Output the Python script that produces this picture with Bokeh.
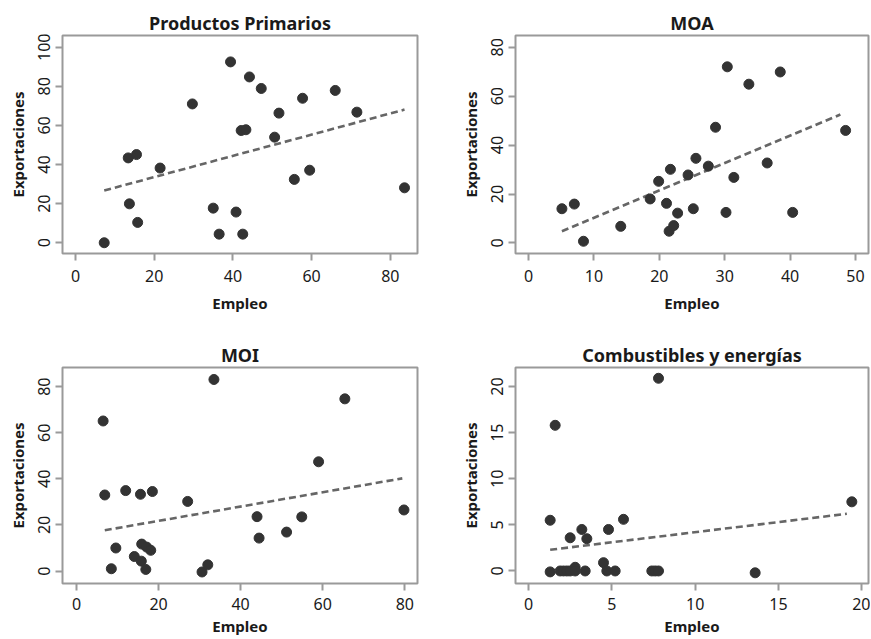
from bokeh.plotting import figure
from bokeh.layouts import gridplot
from bokeh.models import FixedTicker, Range1d
from bokeh.embed import file_html
from bokeh.resources import INLINE

# ---------------- data ----------------
titles = ["Productos Primarios", "MOA", "MOI", "Combustibles y energías"]

emp_pp = [7.3, 13.4, 15.5, 13.7, 15.8, 21.5, 29.7, 35.0, 36.5, 39.4, 40.8, 42.1,
          43.3, 42.5, 44.2, 47.2, 50.6, 51.7, 55.6, 57.7, 59.5, 66.0, 71.5, 83.6]
exp_pp = [0.0, 43.4, 45.1, 19.9, 10.4, 38.2, 71.0, 17.7, 4.4, 92.5, 15.7, 57.4,
          57.8, 4.4, 84.8, 78.9, 54.0, 66.3, 32.4, 73.9, 37.1, 77.9, 66.8, 28.1]
trend_pp_x = [7.3, 83.6]
trend_pp_y = [26.7, 68.1]

emp_moa = [5.1, 7.0, 8.4, 14.1, 18.6, 19.9, 21.1, 21.7, 21.5, 22.2, 22.8, 24.4,
           25.2, 25.6, 27.5, 28.6, 30.2, 30.4, 31.4, 33.7, 36.5, 38.5, 40.4, 48.5]
exp_moa = [14.0, 15.9, 0.7, 6.8, 18.0, 25.2, 16.2, 30.1, 4.8, 7.1, 12.2, 27.8,
           14.0, 34.6, 31.4, 47.3, 12.5, 72.0, 26.8, 64.9, 32.7, 69.9, 12.5, 46.0]
trend_moa_x = [5.1, 47.7]
trend_moa_y = [4.8, 52.5]

emp_moi = [6.5, 6.9, 8.5, 9.6, 12.0, 14.1, 15.6, 15.9, 15.8, 16.9, 17.1, 18.1,
           18.5, 27.1, 30.6, 32.0, 33.5, 44.0, 44.5, 51.2, 54.9, 59.0, 65.4, 79.8]
exp_moi = [65.1, 33.0, 1.0, 10.0, 34.9, 6.3, 33.3, 11.7, 4.3, 0.7, 10.4, 9.0,
           34.5, 30.2, -0.4, 2.7, 83.1, 23.6, 14.3, 16.9, 23.5, 47.4, 74.7, 26.5]
trend_moi_x = [6.9, 79.4]
trend_moi_y = [17.7, 40.2]

emp_ce = [1.3, 1.3, 1.6, 1.9, 2.1, 2.3, 2.5, 2.5, 2.8, 2.8, 3.2, 3.4,
          3.5, 4.5, 4.7, 4.8, 5.2, 5.7, 7.4, 7.6, 7.8, 7.8, 13.6, 19.4]
exp_ce = [5.5, -0.1, 15.8, 0.0, 0.0, 0.0, 3.6, 0.0, 0.4, 0.0, 4.5, 0.0,
          3.5, 0.9, 0.0, 4.5, 0.0, 5.6, 0.0, 0.0, 0.0, 20.9, -0.2, 7.5]
trend_ce_x = [1.3, 19.1]
trend_ce_y = [2.3, 6.2]

xticks_pp = [0, 20, 40, 60, 80]
yticks_pp = [0, 20, 40, 60, 80, 100]
xticks_moa = [0, 10, 20, 30, 40, 50]
yticks_moa = [0, 20, 40, 60, 80]
xticks_moi = [0, 20, 40, 60, 80]
yticks_moi = [0, 20, 40, 60, 80]
xticks_ce = [0, 5, 10, 15, 20]
yticks_ce = [0, 5, 10, 15, 20]

FONT = "Noto Sans"
GRAY = "#9a9a9a"
TXT = "#1a1a1a"


def panel(title, xs, ys, tx, ty, xr, yr, xt, yt, w, h, bl, br, bt, bb,
          lab_standoff, axlab_standoff):
    p = figure(width=w, height=h, output_backend="svg", toolbar_location=None,
               x_range=Range1d(*xr), y_range=Range1d(*yr),
               min_border_left=bl, min_border_right=br,
               min_border_top=bt, min_border_bottom=bb)
    p.title.text = title
    p.title.align = "center"
    p.title.text_font = FONT
    p.title.text_font_size = "18px"
    p.title.text_font_style = "bold"
    p.title.text_color = TXT
    p.title.standoff = 2
    p.grid.visible = False
    p.outline_line_color = GRAY
    p.outline_line_width = 2
    p.background_fill_color = "white"
    p.border_fill_color = "white"

    for ax in (p.xaxis, p.yaxis):
        ax.axis_line_color = None
        ax.major_tick_line_color = GRAY
        ax.major_tick_line_width = 2
        ax.major_tick_in = 0
        ax.major_tick_out = 7
        ax.minor_tick_line_color = None
        ax.major_label_text_font = FONT
        ax.major_label_text_font_size = "16px"
        ax.major_label_text_color = TXT
        ax.axis_label_text_font = FONT
        ax.axis_label_text_font_size = "15px"
        ax.axis_label_text_font_style = "bold"
        ax.axis_label_text_color = TXT
    p.xaxis.ticker = FixedTicker(ticks=xt)
    p.yaxis.ticker = FixedTicker(ticks=yt)
    p.xaxis.axis_label = "Empleo"
    p.yaxis.axis_label = "Exportaciones"
    p.yaxis.major_label_orientation = "vertical"
    p.xaxis.major_label_standoff = lab_standoff
    p.xaxis.axis_label_standoff = axlab_standoff
    p.yaxis.major_label_standoff = 5
    p.yaxis.axis_label_standoff = 8

    p.line(tx, ty, line_color="#666666", line_width=2.6, line_dash="7 4")
    p.scatter(xs, ys, size=10, fill_color="#333333", line_color="#333333")
    return p


p1 = panel(titles[0], emp_pp, exp_pp, trend_pp_x, trend_pp_y,
           (-3.3, 86.9), (-5.5, 106.0), xticks_pp, yticks_pp,
           435, 320, 62, 18, 35, 67, 9, 8)
p2 = panel(titles[1], emp_moa, exp_moa, trend_moa_x, trend_moa_y,
           (-2.0, 52.0), (-4.3, 84.8), xticks_moa, yticks_moa,
           435, 320, 80, 2, 35, 67, 9, 8)
p3 = panel(titles[2], emp_moi, exp_moi, trend_moi_x, trend_moi_y,
           (-3.4, 83.1), (-5.4, 88.3), xticks_moi, yticks_moi,
           435, 318, 62, 18, 47, 54, 7, 3)
p4 = panel(titles[3], emp_ce, exp_ce, trend_ce_x, trend_ce_y,
           (-0.78, 20.4), (-1.36, 22.07), xticks_ce, yticks_ce,
           435, 318, 80, 2, 47, 54, 7, 3)

grid = gridplot([[p1, p2], [p3, p4]], toolbar_location=None)

open("out.html", "w").write(file_html(grid, INLINE))
